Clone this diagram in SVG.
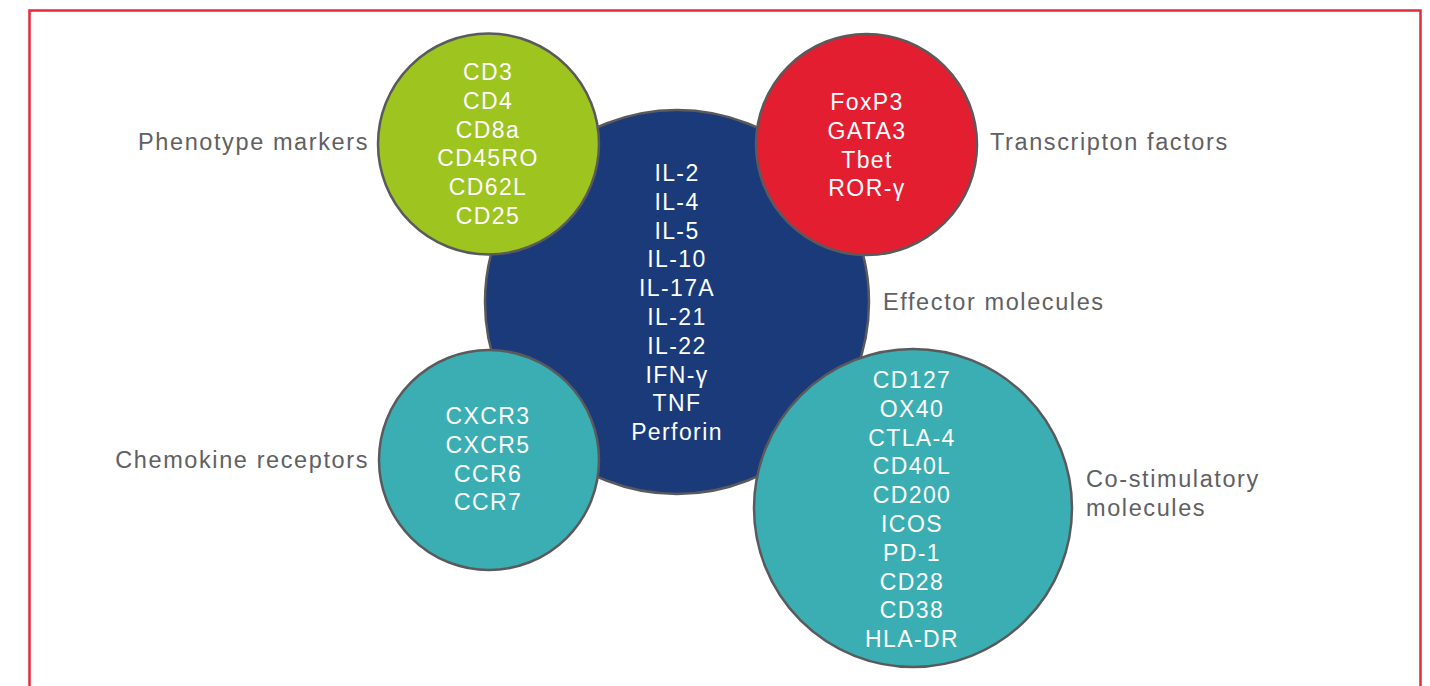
<svg xmlns="http://www.w3.org/2000/svg" width="1430" height="686" viewBox="0 0 1430 686">
<style>
.c{stroke:#5a5a5c;stroke-width:2.5}
.t{font-family:"Liberation Sans",Arial,sans-serif;font-size:23px;fill:#ffffff;text-anchor:middle;letter-spacing:1.4px}
.l{font-family:"Liberation Sans",Arial,sans-serif;font-size:23.5px;fill:#5f6062;letter-spacing:1.6px}
</style>
<rect x="0" y="0" width="1430" height="686" fill="#ffffff"/>
<rect x="29.5" y="10.5" width="1391" height="700" fill="none" stroke="#e42a3b" stroke-width="2.5"/>
<g id="connectors"></g>
<g id="effector">
<circle class="c" cx="677" cy="302" r="192" fill="#1a3a7a"/>
<text class="t" x="677" y="181">IL-2</text>
<text class="t" x="677" y="209.8">IL-4</text>
<text class="t" x="677" y="238.6">IL-5</text>
<text class="t" x="677" y="267.4">IL-10</text>
<text class="t" x="677" y="296.2">IL-17A</text>
<text class="t" x="677" y="325">IL-21</text>
<text class="t" x="677" y="353.8">IL-22</text>
<text class="t" x="677" y="382.6">IFN-γ</text>
<text class="t" x="677" y="411.4">TNF</text>
<text class="t" x="677" y="440.2">Perforin</text>
<text class="l" x="883" y="310">Effector molecules</text>
</g>
<g id="phenotype">
<circle class="c" cx="488.5" cy="144" r="110.5" fill="#9dc41f"/>
<text class="t" x="488" y="80">CD3</text>
<text class="t" x="488" y="108.8">CD4</text>
<text class="t" x="488" y="137.6">CD8a</text>
<text class="t" x="488" y="166.4">CD45RO</text>
<text class="t" x="488" y="195.2">CD62L</text>
<text class="t" x="488" y="224">CD25</text>
<text class="l" x="369" y="150" text-anchor="end">Phenotype markers</text>
</g>
<g id="transcription">
<circle class="c" cx="866.5" cy="144.5" r="110.5" fill="#e31e30"/>
<text class="t" x="867" y="110">FoxP3</text>
<text class="t" x="867" y="138.8">GATA3</text>
<text class="t" x="867" y="167.6">Tbet</text>
<text class="t" x="867" y="196.4">ROR-γ</text>
<text class="l" x="990" y="150">Transcripton factors</text>
</g>
<g id="chemokine">
<circle class="c" cx="489" cy="460" r="110" fill="#3aaeb3"/>
<text class="t" x="488" y="424">CXCR3</text>
<text class="t" x="488" y="452.8">CXCR5</text>
<text class="t" x="488" y="481.6">CCR6</text>
<text class="t" x="488" y="510.4">CCR7</text>
<text class="l" x="369" y="468" text-anchor="end">Chemokine receptors</text>
</g>
<g id="costimulatory">
<circle class="c" cx="913" cy="508" r="159" fill="#3aaeb3"/>
<text class="t" x="912" y="388">CD127</text>
<text class="t" x="912" y="416.8">OX40</text>
<text class="t" x="912" y="445.6">CTLA-4</text>
<text class="t" x="912" y="474.4">CD40L</text>
<text class="t" x="912" y="503.2">CD200</text>
<text class="t" x="912" y="532">ICOS</text>
<text class="t" x="912" y="560.8">PD-1</text>
<text class="t" x="912" y="589.6">CD28</text>
<text class="t" x="912" y="618.4">CD38</text>
<text class="t" x="912" y="647.2">HLA-DR</text>
<text class="l" x="1086" y="487">Co-stimulatory</text>
<text class="l" x="1086" y="516">molecules</text>
</g>
</svg>
